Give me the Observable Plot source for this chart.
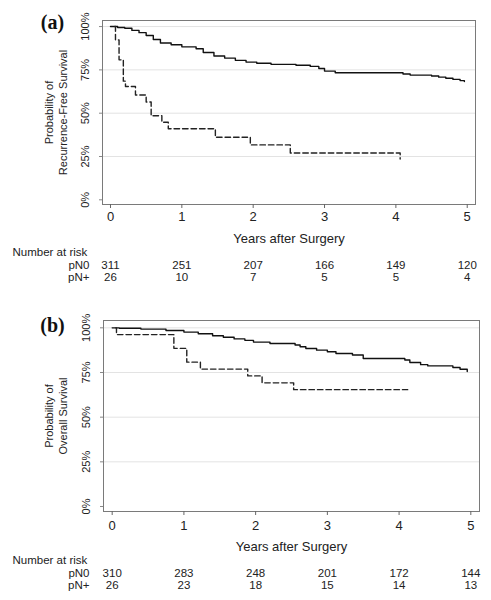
<!DOCTYPE html>
<html>
<head>
<meta charset="utf-8">
<script src="https://cdn.jsdelivr.net/npm/d3@7"></script>
<script src="https://cdn.jsdelivr.net/npm/@observablehq/plot@0.6"></script>
<style>
  html, body { margin: 0; padding: 0; background: #fff; }
  #chart svg { display: block; }
</style>
</head>
<body>
<div id="chart"></div>
<script>
// ---- data ----
const years = [0, 1, 2, 3, 4, 5];
const pctTicks = [0, 25, 50, 75, 100];
const gridPct = [25, 50, 75, 100];

// (a) recurrence-free survival
const rfsN0Time = [0, 0.1, 0.2, 0.3, 0.4, 0.5, 0.6, 0.7, 0.85, 1.0, 1.2, 1.3, 1.45, 1.6, 1.75, 1.9, 2.05, 2.25, 2.6, 2.8, 2.92, 3.0, 3.15, 4.1, 4.2, 4.5, 4.6, 4.7, 4.8, 4.9, 4.96];
const rfsN0Surv = [100, 99.5, 99, 97.8, 96.5, 94.8, 92.5, 90.5, 89.5, 88.3, 87.2, 85, 83, 81.8, 80.5, 79.5, 78.8, 78.2, 77.7, 77, 75.8, 74.3, 73.3, 72.6, 72, 71.5, 70.8, 70.2, 69.5, 68.8, 68.3];
const rfsNpTime = [0.06, 0.07, 0.12, 0.18, 0.21, 0.35, 0.50, 0.57, 0.72, 0.81, 1.47, 1.96, 2.52, 4.06];
const rfsNpSurv = [100, 92.3, 80.8, 68.5, 65.4, 60.5, 56.5, 48.5, 44.8, 41, 36.1, 31.7, 27, 23.5];
const rfsRiskN0 = [311, 251, 207, 166, 149, 120];
const rfsRiskNp = [26, 10, 7, 5, 5, 4];

// (b) overall survival
const osN0Time = [0, 0.1, 0.4, 0.75, 1.0, 1.2, 1.4, 1.55, 1.7, 1.85, 1.97, 2.2, 2.55, 2.62, 2.7, 2.85, 3.0, 3.12, 3.35, 3.5, 4.08, 4.15, 4.3, 4.4, 4.75, 4.85, 4.95];
const osN0Surv = [100, 99.8, 99.3, 98.5, 97.6, 96.7, 95.6, 94.7, 93.8, 93.0, 92.0, 91.2, 90.4, 89.4, 88.4, 87.5, 86.6, 85.6, 84.8, 82.8, 82.0, 80.6, 79.4, 78.7, 77.8, 76.8, 75.5];
const osNpTime = [0.05, 0.06, 0.86, 1.04, 1.23, 1.89, 2.09, 2.53, 4.12];
const osNpSurv = [100, 96.2, 88.5, 80.8, 76.9, 73.1, 69.2, 65.4, 65.4];
const osRiskN0 = [310, 283, 248, 201, 172, 144];
const osRiskNp = [26, 23, 18, 15, 14, 13];

const zip = (t, s) => t.map((d, i) => ({t: d, s: s[i]}));

function panel(o) {
  const sans = "'Liberation Sans', Arial, sans-serif";
  const c = {textAnchor: "middle", lineAnchor: "middle"};
  return Plot.plot({
    width: 491,
    height: 300,
    marginTop: o.mt,
    marginBottom: o.mb,
    marginLeft: o.ml,
    marginRight: o.mr,
    style: {fontFamily: sans, background: "#fff", color: "#222", overflow: "visible"},
    x: {domain: o.xdom},
    y: {domain: o.ydom},
    marks: [
      Plot.ruleY(gridPct, {stroke: "#e3e3e3", strokeWidth: 1}),
      Plot.frame({stroke: "#7a7a7a"}),
      Plot.axisX({ticks: years, tickSize: 4, tickPadding: o.xpad, tickFormat: d => String(d), fontSize: 13, label: null, stroke: "#666"}),
      Plot.axisY({ticks: pctTicks, tickSize: 3, tickFormat: () => "", label: null, stroke: "#888"}),
      Plot.text(pctTicks, {...c, y: d => d, text: d => d + "%", frameAnchor: "left", dx: -17, rotate: -90, fontSize: 11}),
      Plot.line(zip(o.sT, o.sS), {x: "t", y: "s", curve: "step-after", stroke: "#111", strokeWidth: 1.4}),
      Plot.line(zip(o.dT, o.dS), {x: "t", y: "s", curve: "step-after", stroke: "#222", strokeWidth: 1.4, strokeDasharray: "5.5,3"}),
      Plot.text([o.ytitle], {...c, text: d => d, frameAnchor: "left", dx: 55 - o.ml, rotate: -90, fontSize: 11, lineHeight: 1.3}),
      Plot.text([o.title], {...c, text: d => d, frameAnchor: "top-left", dx: 52 - o.ml, dy: o.tdy, fontSize: 20, fontWeight: "bold", fontFamily: "'Liberation Serif', 'Times New Roman', serif", fill: "#111"}),
      Plot.text(["Years after Surgery"], {...c, text: d => d, frameAnchor: "bottom", dy: o.xl, fontSize: 13}),
      Plot.text(["Number at risk"], {...c, textAnchor: "start", text: d => d, frameAnchor: "bottom-left", dx: 12 - o.ml, dy: o.r0, fontSize: 11.5}),
      Plot.text(["pN0"], {...c, textAnchor: "end", text: d => d, frameAnchor: "bottom-left", dx: 89 - o.ml, dy: o.r1, fontSize: 11.5}),
      Plot.text(["pN+"], {...c, textAnchor: "end", text: d => d, frameAnchor: "bottom-left", dx: 89 - o.ml, dy: o.r2, fontSize: 11.5}),
      Plot.text(years, {...c, x: d => d, text: (d, i) => o.n0[i], frameAnchor: "bottom", dy: o.r1, fontSize: 11.5}),
      Plot.text(years, {...c, x: d => d, text: (d, i) => o.np[i], frameAnchor: "bottom", dy: o.r2, fontSize: 11.5})
    ]
  });
}

const chart = document.getElementById("chart");
chart.append(panel({
  title: "(a)", ytitle: "Probability of\nRecurrence-Free Survival",
  sT: rfsN0Time, sS: rfsN0Surv, dT: rfsNpTime, dS: rfsNpSurv,
  n0: rfsRiskN0, np: rfsRiskNp,
  mt: 20, mb: 96, ml: 102, mr: 16,
  xdom: [-0.112, 5.116], ydom: [-2.7, 103.5],
  xpad: 3, xl: 34, r0: 48, r1: 60.5, r2: 72.5, tdy: 2
}));
chart.append(panel({
  title: "(b)", ytitle: "Probability of\nOverall Survival",
  sT: osN0Time, sS: osN0Surv, dT: osNpTime, dS: osNpSurv,
  n0: osRiskN0, np: osRiskNp,
  mt: 20, mb: 89, ml: 103, mr: 12,
  xdom: [-0.121, 5.121], ydom: [-2.8, 104.1],
  xpad: 5, xl: 35, r0: 49, r1: 61.5, r2: 73.5, tdy: 5
}));
</script>
</body>
</html>
